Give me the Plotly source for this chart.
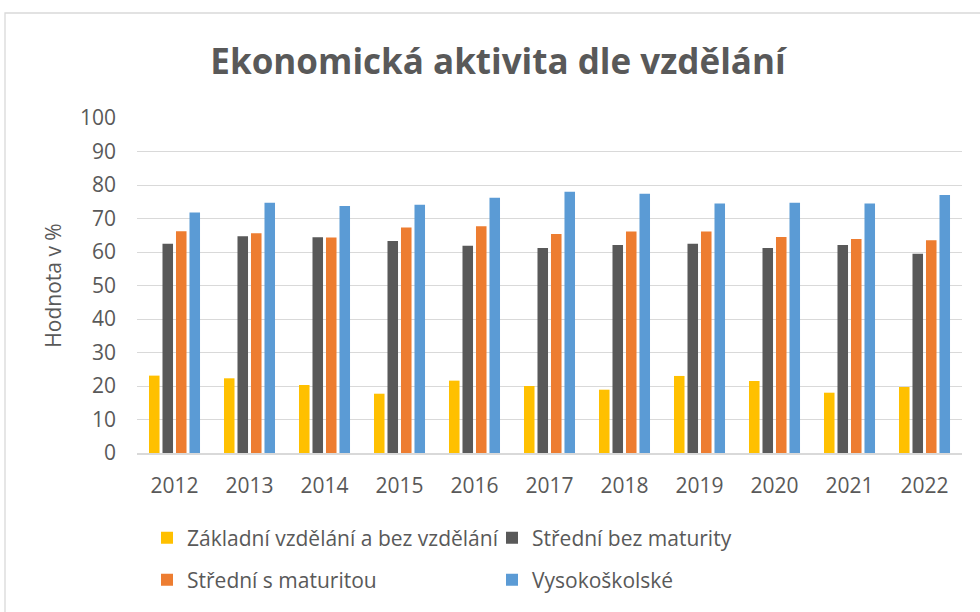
import plotly.graph_objects as go

years = ["2012", "2013", "2014", "2015", "2016", "2017", "2018", "2019", "2020", "2021", "2022"]
zakladni = [23.1, 22.3, 20.3, 17.7, 21.6, 20.0, 18.9, 23.0, 21.5, 18.0, 19.7]
stredni_bez = [62.5, 64.7, 64.4, 63.3, 61.9, 61.2, 62.1, 62.5, 61.2, 62.1, 59.5]
stredni_s = [66.2, 65.6, 64.3, 67.3, 67.7, 65.4, 66.1, 66.1, 64.5, 63.9, 63.5]
vysokoskolske = [71.8, 74.7, 73.7, 74.1, 76.2, 78.0, 77.4, 74.5, 74.7, 74.5, 77.0]
y_ticks = [0, 10, 20, 30, 40, 50, 60, 70, 80, 90, 100]

series = [
    ("Základní vzdělání a bez vzdělání", zakladni, "#FFC000", "legend"),
    ("Střední bez maturity", stredni_bez, "#595959", "legend"),
    ("Střední s maturitou", stredni_s, "#ED7D31", "legend2"),
    ("Vysokoškolské", vysokoskolske, "#5B9BD5", "legend2"),
]

FONT = "Open Sans"
GREY = "#595959"
FS = 21

fig = go.Figure()
for name, vals, color, lg in series:
    fig.add_trace(go.Bar(x=years, y=vals, name=name, marker=dict(color=color, line=dict(width=0)),
                         legend=lg))

W, H = 980, 612
left_p, right_p, top_p, bottom_p = 137, 962, 118, 453
L = left_p
T = top_p
R = W - right_p
B = H - bottom_p
pw, ph = W - L - R, H - T - B


def px_x(x):
    return (x - L) / pw


def px_y(y):
    return 1 - (y - T) / ph


fig.update_layout(
    width=W, height=H,
    margin=dict(l=L, r=R, t=T, b=B),
    paper_bgcolor="white", plot_bgcolor="white",
    barmode="group", bargap=0.28, bargroupgap=0.22,
    font=dict(family=FONT, color=GREY, size=FS),
    title=dict(text="<b>Ekonomická aktivita dle vzdělání</b>", font=dict(family=FONT, size=35, color=GREY),
               x=498 / W, xref="container", xanchor="center", y=1 - 62 / H, yref="container",
               yanchor="middle"),
    xaxis=dict(showgrid=False, showline=True, linecolor="#d9d9d9", linewidth=1.5, ticks="",
               tickfont=dict(size=FS, color=GREY), ticklabelstandoff=13),
    yaxis=dict(range=[0, 100], tickvals=y_ticks, showgrid=True, gridcolor="#d9d9d9", gridwidth=1.3,
               zeroline=False, showline=False, ticks="", tickfont=dict(size=FS, color=GREY),
               ticklabelstandoff=20,
               title=dict(text="Hodnota v %", font=dict(size=FS, color=GREY), standoff=12)),
    legend=dict(orientation="h", x=px_x(147), y=px_y(538), xanchor="left", yanchor="middle",
                entrywidth=300, entrywidthmode="pixels", font=dict(size=FS, color=GREY),
                bgcolor="rgba(0,0,0,0)", itemclick=False),
    legend2=dict(orientation="h", x=px_x(147), y=px_y(580), xanchor="left", yanchor="middle",
                 entrywidth=300, entrywidthmode="pixels", font=dict(size=FS, color=GREY),
                 bgcolor="rgba(0,0,0,0)", itemclick=False),
    shapes=[dict(type="rect", xref="paper", yref="paper",
                 x0=px_x(5), x1=px_x(1000), y0=px_y(640), y1=px_y(13),
                 line=dict(color="#d9d9d9", width=1.3), fillcolor="rgba(0,0,0,0)", layer="below")],
)

fig.write_html("out.html", config={"displayModeBar": False},
               post_script="document.body.style.margin='0';")
